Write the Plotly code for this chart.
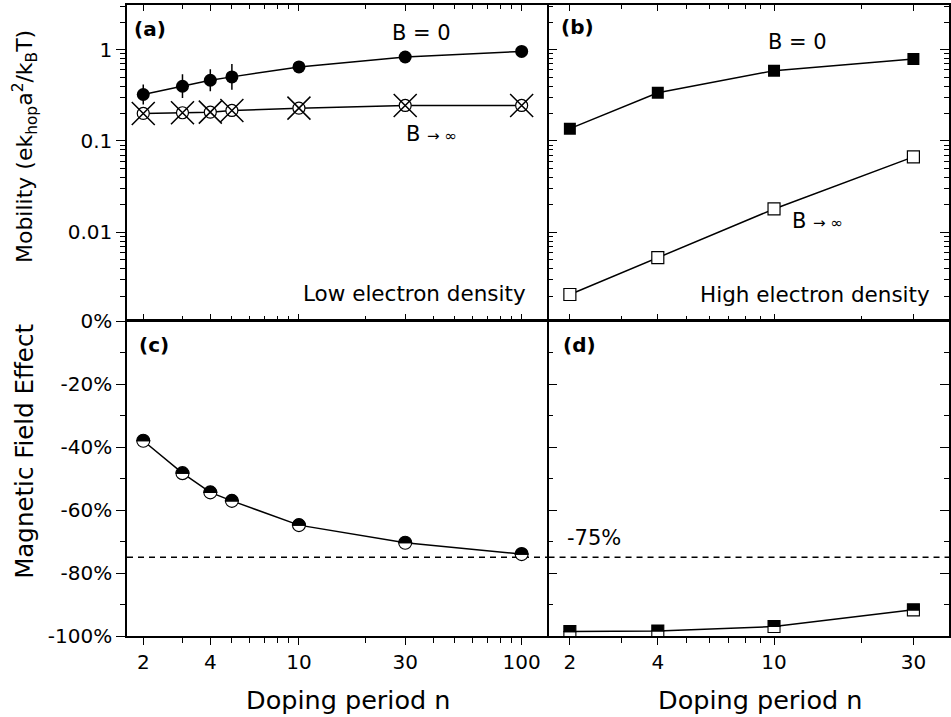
import plotly.graph_objects as go

# ---------------- data ----------------
n_low = [2, 3, 4, 5, 10, 30, 100]
mob_low_B0 = [0.323, 0.398, 0.463, 0.504, 0.648, 0.832, 0.958]
mob_low_B0_err_plus = [0.093, 0.139, 0.147, 0.192, 0, 0, 0]
mob_low_B0_err_minus = [0.072, 0.103, 0.112, 0.139, 0, 0, 0]
mob_low_Binf = [0.2005, 0.204, 0.207, 0.216, 0.229, 0.245, 0.245]

n_high = [2, 4, 10, 30]
mob_high_B0 = [0.1365, 0.337, 0.590, 0.792]
mob_high_Binf = [0.00208, 0.00526, 0.0180, 0.0669]

mfe_low = [-38.0, -48.3, -54.4, -57.1, -64.8, -70.4, -74.0]
mfe_high = [-98.6, -98.4, -97.0, -91.7]
limit_line = -75

x_ticks_low = [2, 4, 10, 30, 100]
x_ticks_high = [2, 4, 10, 30]
x_minor_low = [3, 5, 6, 7, 8, 9, 20, 40, 50, 60, 70, 80, 90]
x_minor_high = [3, 5, 6, 7, 8, 9, 20]
mob_ticks = [0.01, 0.1, 1]
mob_ticktext = ["0.01", "0.1", "1"]
mob_minor = [m * d for d in (0.001, 0.01, 0.1) for m in range(2, 10)] + [2, 3]
mfe_ticks = [0, -20, -40, -60, -80, -100]
mfe_ticktext = ["0%", "-20%", "-40%", "-60%", "-80%", "-100%"]
mfe_minor = [-10, -30, -50, -70, -90]

# ---------------- style ----------------
FONT = "DejaVu Sans"
TICKFONT = dict(family=FONT, size=20, color="black")
BLACK = "black"
LW = 1.5
PLOT_W = 822.0
PLOT_H = 631.0
xsplit = 0.511
ysplit = 0.4992
xgap = 1.5 / PLOT_W
ygap = 1.5 / PLOT_H
xdom_left = [0, xsplit]
xdom_right = [xsplit + xgap, 1]
ydom_top = [ysplit + ygap, 1]
ydom_bot = [0, ysplit]
xr_low = [0.228, 2.114]
xr_high = [0.228, 1.599]
yr_mob = [-2.956, 0.49]
yr_mfe = [-100, 0]

fig = go.Figure()

# (a) low density mobility
fig.add_trace(go.Scatter(
    x=n_low, y=mob_low_B0, mode="lines+markers", xaxis="x", yaxis="y",
    line=dict(color=BLACK, width=LW),
    marker=dict(symbol="circle", size=13, color=BLACK),
    error_y=dict(type="data", symmetric=False, array=mob_low_B0_err_plus,
                 arrayminus=mob_low_B0_err_minus, color=BLACK, thickness=1.5, width=0),
    showlegend=False))
fig.add_trace(go.Scatter(
    x=n_low, y=mob_low_Binf, mode="lines+markers", xaxis="x", yaxis="y",
    line=dict(color=BLACK, width=LW),
    marker=dict(symbol="circle", size=12, color="white", line=dict(color=BLACK, width=1.2)),
    showlegend=False))
fig.add_trace(go.Scatter(
    x=n_low, y=mob_low_Binf, mode="markers", xaxis="x", yaxis="y",
    marker=dict(symbol="x-thin", size=23, color=BLACK, line=dict(color=BLACK, width=1.5)),
    showlegend=False))

# (b) high density mobility
fig.add_trace(go.Scatter(
    x=n_high, y=mob_high_B0, mode="lines+markers", xaxis="x2", yaxis="y2",
    line=dict(color=BLACK, width=LW),
    marker=dict(symbol="square", size=12, color=BLACK),
    showlegend=False))
fig.add_trace(go.Scatter(
    x=n_high, y=mob_high_Binf, mode="lines+markers", xaxis="x2", yaxis="y2",
    line=dict(color=BLACK, width=LW),
    marker=dict(symbol="square", size=12, color="white", line=dict(color=BLACK, width=1.2)),
    showlegend=False))

# (c), (d) magnetic field effect lines
fig.add_trace(go.Scatter(x=n_low, y=mfe_low, mode="lines", xaxis="x3", yaxis="y3",
                         line=dict(color=BLACK, width=LW), showlegend=False))
fig.add_trace(go.Scatter(x=n_high, y=mfe_high, mode="lines", xaxis="x4", yaxis="y4",
                         line=dict(color=BLACK, width=LW), showlegend=False))

shapes = []
# dashed -75% lines
for xr, yr in (("x3", "y3"), ("x4", "y4")):
    shapes.append(dict(type="line", xref=xr + " domain", yref=yr, x0=0, x1=1,
                       y0=limit_line, y1=limit_line,
                       line=dict(color=BLACK, width=1.5, dash="6px,5px")))

# half-filled marker glyphs (pixel offsets around each data point)
r = 6.5
k = round(0.5523 * r, 3)
circ_top = f"M {-r},0 C {-r},{k} {-k},{r} 0,{r} C {k},{r} {r},{k} {r},0 Z"
circ_bot = f"M {-r},0 C {-r},{-k} {-k},{-r} 0,{-r} C {k},{-r} {r},{-k} {r},0 Z"
s = 6
sq_top = f"M {-s},0 L {s},0 L {s},{s} L {-s},{s} Z"
sq_bot = f"M {-s},{-s} L {s},{-s} L {s},0 L {-s},0 Z"


def glyph(xr, yr, xv, yv, path, fill):
    return dict(type="path", xref=xr, yref=yr, xsizemode="pixel", ysizemode="pixel",
                xanchor=xv, yanchor=yv, path=path, fillcolor=fill,
                line=dict(color=BLACK, width=1.1))


for xv, yv in zip(n_low, mfe_low):
    shapes.append(glyph("x3", "y3", xv, yv, circ_bot, "white"))
    shapes.append(glyph("x3", "y3", xv, yv, circ_top, BLACK))
for xv, yv in zip(n_high, mfe_high):
    shapes.append(glyph("x4", "y4", xv, yv, sq_bot, "white"))
    shapes.append(glyph("x4", "y4", xv, yv, sq_top, BLACK))


def axis(**kw):
    base = dict(showgrid=False, zeroline=False, showline=True, linecolor=BLACK,
                linewidth=1.5, tickcolor=BLACK, tickwidth=1.3, tickfont=TICKFONT)
    base.update(kw)
    return base


def minor(vals, direction, length):
    return dict(tickvals=vals, ticks=direction, ticklen=length,
                tickcolor=BLACK, tickwidth=1.2)


layout = dict(
    width=951, height=717,
    margin=dict(l=127, r=2, t=5, b=81, autoexpand=False),
    paper_bgcolor="white", plot_bgcolor="white",
    font=dict(family=FONT, size=20, color="black"),
    shapes=shapes,
    # (a)
    xaxis=axis(domain=xdom_left, anchor="y", type="log", range=xr_low,
               tickmode="array", tickvals=x_ticks_low, showticklabels=False,
               ticks="inside", ticklen=6, mirror="ticks",
               minor=minor(x_minor_low, "inside", 4)),
    yaxis=axis(domain=ydom_top, anchor="x", type="log", range=yr_mob,
               tickmode="array", tickvals=mob_ticks, ticktext=mob_ticktext,
               ticks="outside", ticklen=9, mirror=True,
               minor=minor(mob_minor, "outside", 5)),
    # (b)
    xaxis2=axis(domain=xdom_right, anchor="y2", type="log", range=xr_high,
                tickmode="array", tickvals=x_ticks_high, showticklabels=False,
                ticks="inside", ticklen=6, mirror="ticks",
                minor=minor(x_minor_high, "inside", 4)),
    yaxis2=axis(domain=ydom_top, anchor="x2", type="log", range=yr_mob,
                tickmode="array", tickvals=mob_ticks, showticklabels=False,
                ticks="inside", ticklen=9, mirror="ticks",
                minor=minor(mob_minor, "inside", 5)),
    # (c)
    xaxis3=axis(domain=xdom_left, anchor="y3", type="log", range=xr_low,
                tickmode="array", tickvals=x_ticks_low,
                ticktext=[str(v) for v in x_ticks_low],
                ticks="outside", ticklen=7, mirror=True,
                minor=minor(x_minor_low, "outside", 5)),
    yaxis3=axis(domain=ydom_bot, anchor="x3", range=yr_mfe,
                tickmode="array", tickvals=mfe_ticks, ticktext=mfe_ticktext,
                ticks="outside", ticklen=9, mirror=True,
                minor=minor(mfe_minor, "outside", 5)),
    # (d)
    xaxis4=axis(domain=xdom_right, anchor="y4", type="log", range=xr_high,
                tickmode="array", tickvals=x_ticks_high,
                ticktext=[str(v) for v in x_ticks_high],
                ticks="outside", ticklen=7, mirror=True,
                minor=minor(x_minor_high, "outside", 5)),
    yaxis4=axis(domain=ydom_bot, anchor="x4", range=yr_mfe,
                tickmode="array", tickvals=mfe_ticks, showticklabels=False,
                ticks="inside", ticklen=9, mirror="ticks",
                minor=minor(mfe_minor, "inside", 5)),
    # overlay axes giving inward ticks on the opposite sides
    xaxis5=axis(overlaying="x3", anchor="y3", side="top", type="log", range=xr_low,
                tickmode="array", tickvals=x_ticks_low, showticklabels=False,
                showline=False, ticks="inside", ticklen=6,
                minor=minor(x_minor_low, "inside", 4)),
    xaxis6=axis(overlaying="x4", anchor="y4", side="top", type="log", range=xr_high,
                tickmode="array", tickvals=x_ticks_high, showticklabels=False,
                showline=False, ticks="inside", ticklen=6,
                minor=minor(x_minor_high, "inside", 4)),
    yaxis5=axis(overlaying="y", anchor="x", side="right", type="log", range=yr_mob,
                tickmode="array", tickvals=mob_ticks, showticklabels=False,
                showline=False, ticks="inside", ticklen=9,
                minor=minor(mob_minor, "inside", 5)),
    yaxis6=axis(overlaying="y3", anchor="x3", side="right", range=yr_mfe,
                tickmode="array", tickvals=mfe_ticks, showticklabels=False,
                showline=False, ticks="inside", ticklen=9,
                minor=minor(mfe_minor, "inside", 5)),
)
fig.update_layout(**layout)

ann = []


def note(text, xref, yref, x, y, xanchor="center", size=21):
    ann.append(dict(text=text, xref=xref, yref=yref, x=x, y=y, xanchor=xanchor,
                    yanchor="middle", showarrow=False,
                    font=dict(family=FONT, size=size, color="black")))


small = "<span style='font-size:15px'>→ ∞</span>"
# panel (a)
note("<b>(a)</b>", "x domain", "y domain", 0.012, 0.924, "left", 20)
note("B = 0", "x domain", "y domain", 0.7017, 0.911)
note("B " + small, "x domain", "y domain", 0.7255, 0.589)
note("Low electron density", "x domain", "y domain", 0.955, 0.082, "right", 21.5)
# panel (b)
note("<b>(b)</b>", "x2 domain", "y2 domain", 0.027, 0.930, "left", 20)
note("B = 0", "x2 domain", "y2 domain", 0.621, 0.883)
note("B " + small, "x2 domain", "y2 domain", 0.671, 0.313)
note("High electron density", "x2 domain", "y2 domain", 0.957, 0.079, "right", 21.5)
# panel (c), (d)
note("<b>(c)</b>", "x3 domain", "y3 domain", 0.023, 0.924, "left", 20)
note("<b>(d)</b>", "x4 domain", "y4 domain", 0.030, 0.924, "left", 20)
note("-75%", "x4 domain", "y4 domain", 0.041, 0.311, "left")

# axis titles
ann.append(dict(text="Mobility (ek<sub>hop</sub>a<sup>2</sup>/k<sub>B</sub>T)",
                xref="paper", yref="paper", x=-0.124, y=0.775, textangle=-90,
                showarrow=False, xanchor="center", yanchor="middle",
                font=dict(family=FONT, size=22, color="black")))
ann.append(dict(text="Magnetic Field Effect", xref="paper", yref="paper",
                x=-0.124, y=0.292, textangle=-90, showarrow=False,
                xanchor="center", yanchor="middle",
                font=dict(family=FONT, size=24.5, color="black")))
for xc in (0.2689, 0.770):
    ann.append(dict(text="Doping period n", xref="paper", yref="paper", x=xc, y=-0.101,
                    showarrow=False, xanchor="center", yanchor="middle",
                    font=dict(family=FONT, size=25.5, color="black")))
fig.update_layout(annotations=ann)

fig.write_html("out.html")
